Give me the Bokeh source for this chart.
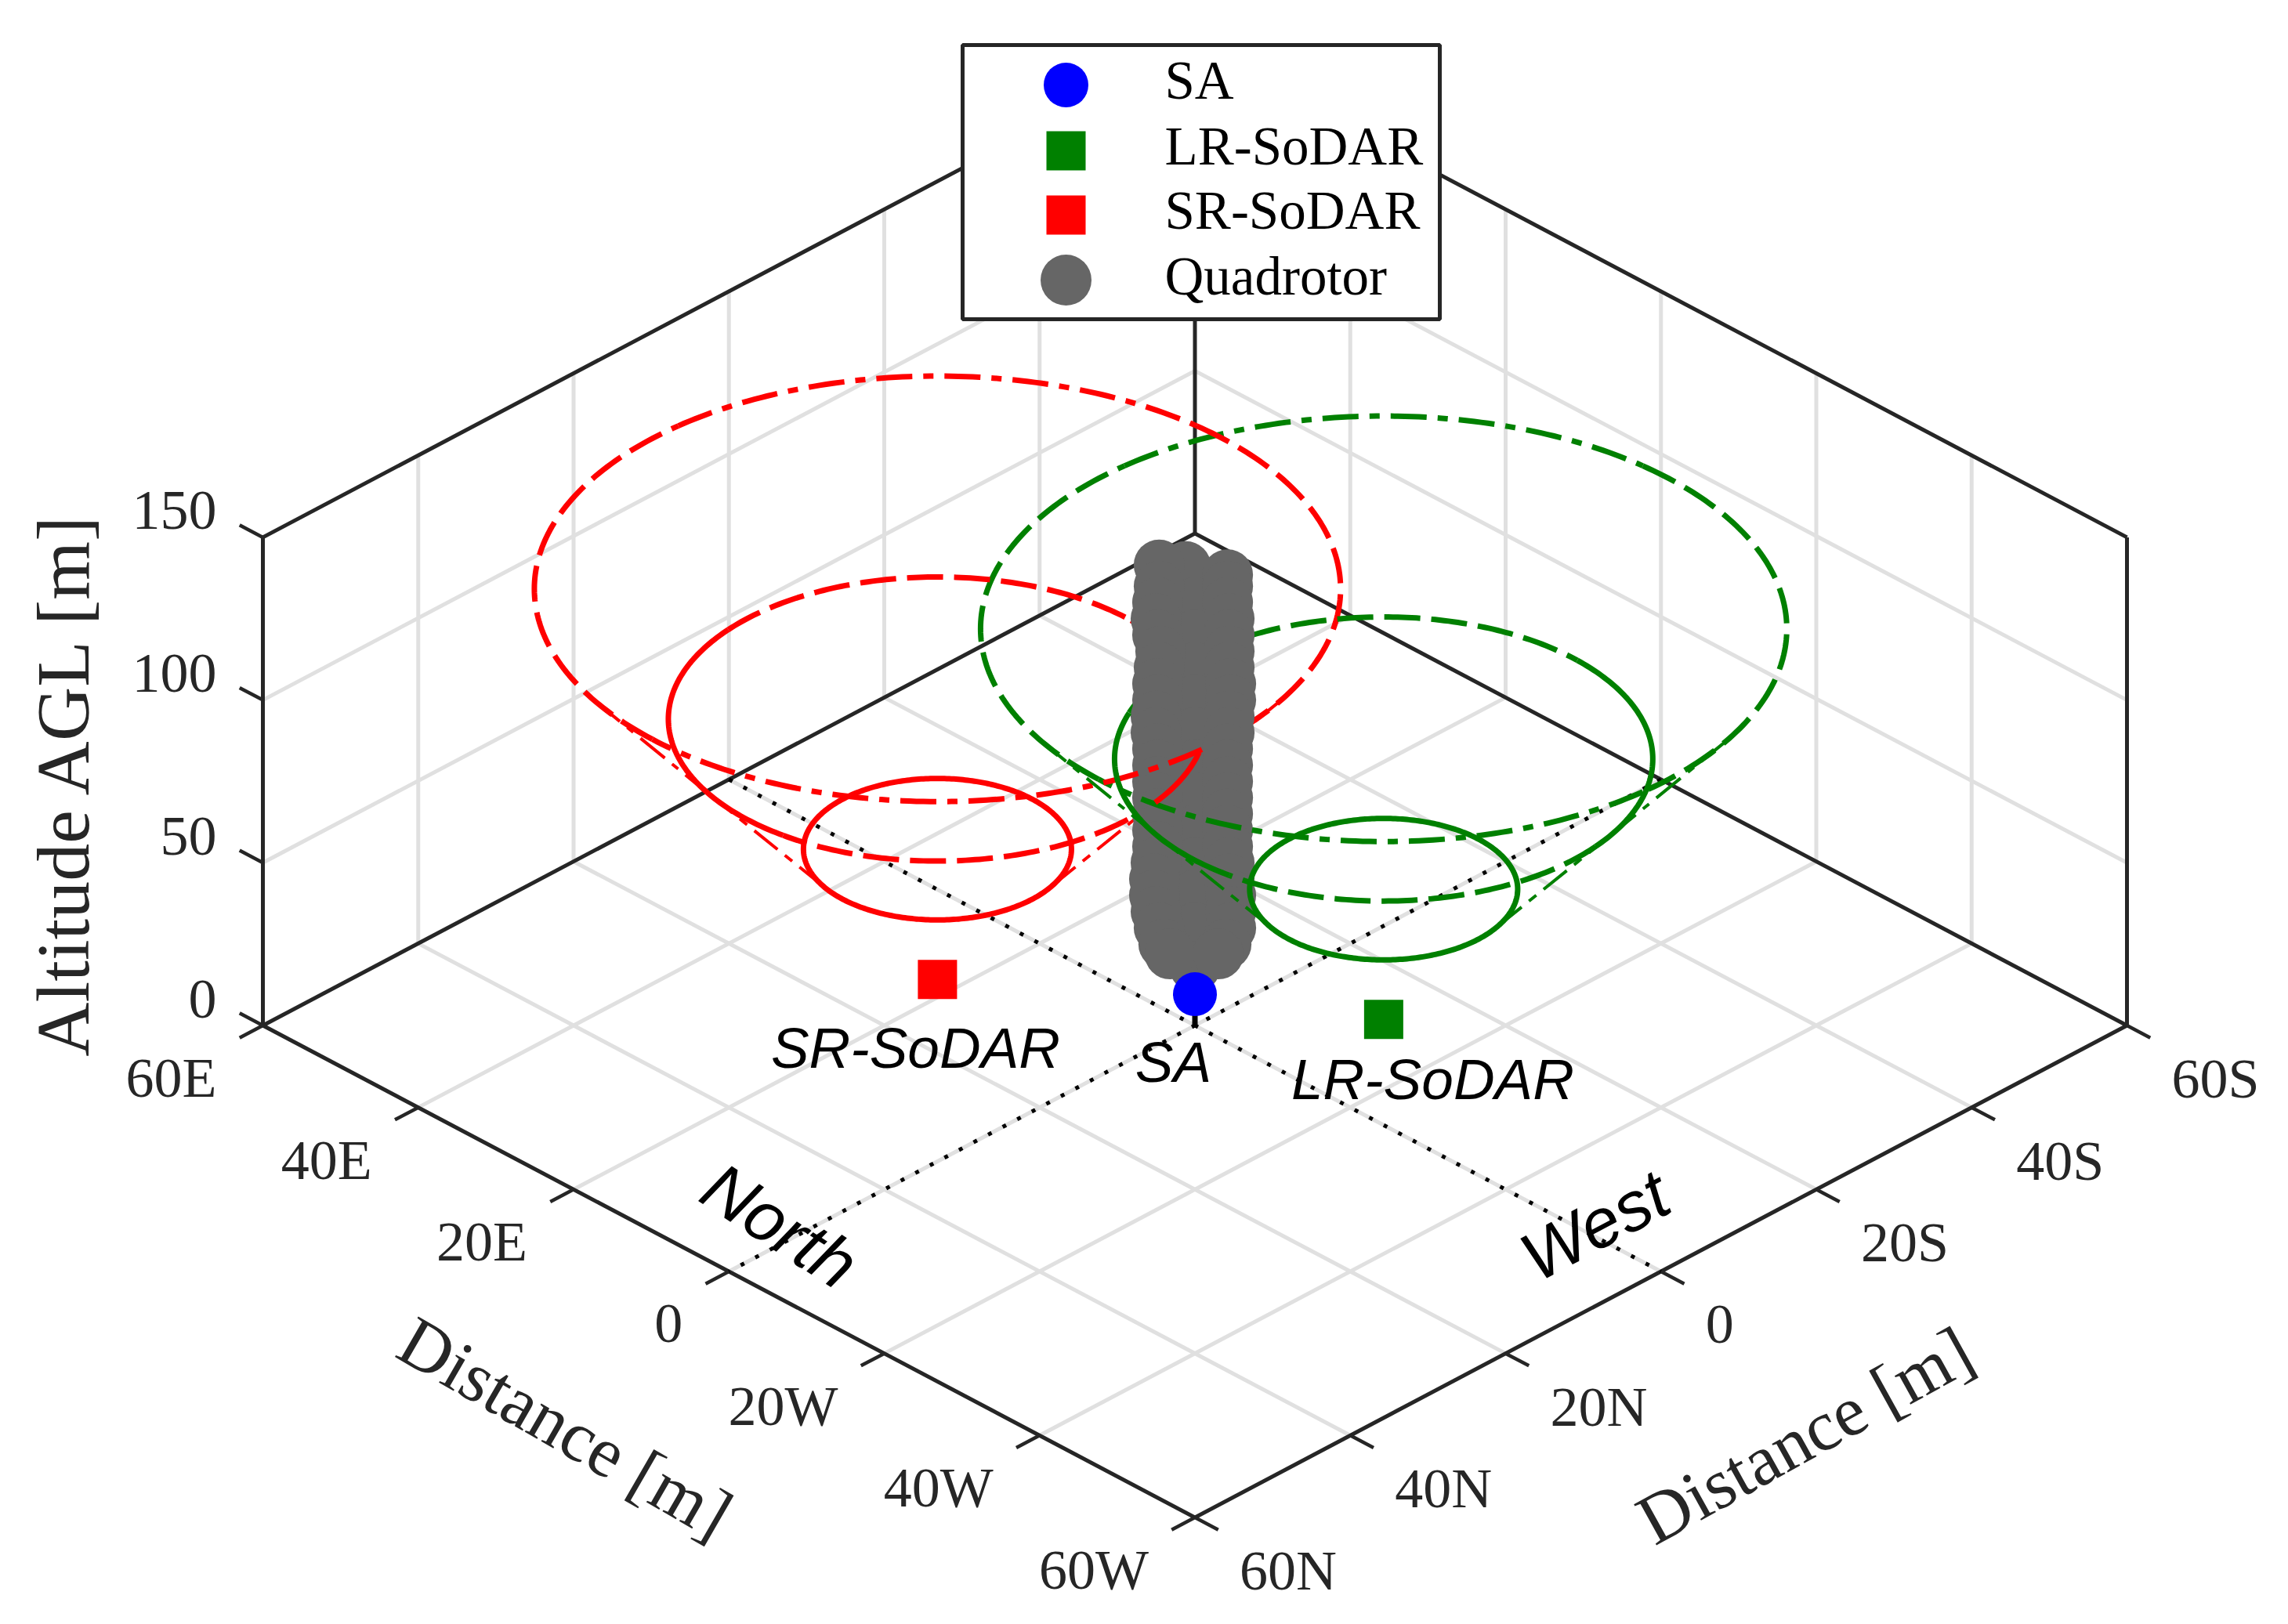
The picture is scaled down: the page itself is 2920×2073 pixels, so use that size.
import math
from bokeh.plotting import figure
from bokeh.models import Range1d
from bokeh.embed import file_html
from bokeh.resources import INLINE
from bokeh.core.properties import value

# ---------- data (metres) ----------
ticks_h = [-60, -40, -20, 0, 20, 40, 60]
ticks_z = [0, 50, 100, 150]
labels_east = {60: "60E", 40: "40E", 20: "20E", 0: "0", -20: "20W", -40: "40W", -60: "60W"}
labels_north = {-60: "60S", -40: "40S", -20: "20S", 0: "0", 20: "20N", 40: "40N", 60: "60N"}

sa_pos = (0.0, 0.0, 9.6)
sr_pos = (22.2, 10.95, 0.0)
lr_pos = (-11.4, -12.9, 0.0)
ring_alt = [40, 80, 120]
ring_radius = [12.2, 24.5, 36.7]

quad_alt_left = [141.5, 135, 130, 125, 120, 115, 110, 105, 100, 95, 90, 85, 80, 75, 70, 65, 60, 55, 50, 45, 40, 35, 30, 25, 22]
quad_off_left = [2.3, 2.3, 2.4, 2.5, 2.4, 2.2, 2.3, 2.4, 2.4, 2.5, 2.5, 2.4, 2.4, 2.4, 2.4, 2.4, 2.4, 2.4, 2.5, 2.6, 2.6, 2.5, 2.3, 2.0, 1.6]
quad_alt_right = [138.5, 135, 130, 125, 120, 115, 110, 105, 100, 95, 90, 85, 80, 75, 70, 65, 60, 55, 50, 45, 40, 35, 30, 25, 22]
quad_off_right = [-2.1, -2.1, -2.1, -2.2, -2.2, -2.2, -2.2, -2.3, -2.3, -2.2, -2.2, -2.1, -2.1, -2.1, -2.1, -2.1, -2.1, -2.1, -2.2, -2.2, -2.3, -2.3, -2.3, -2.0, -1.5]
quad_alt_mid = [141, 130, 120, 110, 100, 90, 80, 70, 60, 50, 40, 30, 20, 18]
quad_off_mid = [0.6, 0, 0, 0, 0, 0, 0, 0, 0, 0, 0, 0, 0, 0]

legend_names = ["SA", "LR-SoDAR", "SR-SoDAR", "Quadrotor"]

# ---------- projection: (east, north, alt) -> picture ----------
CX, CY, KX, KY, KZ = 1524.5, 1308.5, 9.9125, 5.233, 4.154
def proj(e, n, z=0.0):
    return CX - (e + n) * KX, CY + (n - e) * KY - z * KZ

INK = "#262626"; GRID = "#e0e0e0"; RED = "#ff0000"; GREEN = "#008000"; BLUE = "#0000ff"; GREY = "#666666"
SERIF = value("Liberation Serif"); SANS = value("Liberation Sans")
DOTDASH = "46 14 13 14"; DASH = "46 14"

p = figure(width=2904, height=2057, output_backend="svg", toolbar_location=None,
           x_range=Range1d(0, 2904), y_range=Range1d(2057, 0), min_border=0,
           background_fill_color="white", border_fill_color="white", outline_line_color=None)
p.axis.visible = False
p.grid.visible = False

def seg(a, b, color, width, dash="solid"):
    xa, ya = proj(*a); xb, yb = proj(*b)
    p.line([xa, xb], [ya, yb], line_color=color, line_width=width, line_dash=dash, line_cap="butt")

# grid
for t in ticks_h[1:-1]:
    seg((t, -60), (t, 60), GRID, 5)
    seg((-60, t), (60, t), GRID, 5)
    seg((60, t, 0), (60, t, 150), GRID, 5)
    seg((t, -60, 0), (t, -60, 150), GRID, 5)
for z in ticks_z[1:-1]:
    seg((60, -60, z), (60, 60, z), GRID, 5)
    seg((60, -60, z), (-60, -60, z), GRID, 5)

# box
for a, b in [((60, 60, 0), (-60, 60, 0)), ((-60, 60, 0), (-60, -60, 0)),
             ((60, 60, 0), (60, -60, 0)), ((-60, -60, 0), (60, -60, 0)),
             ((60, 60, 0), (60, 60, 150)), ((-60, -60, 0), (-60, -60, 150)),
             ((60, -60, 0), (60, -60, 150)), ((60, 60, 150), (60, -60, 150)),
             ((-60, -60, 150), (60, -60, 150))]:
    seg(a, b, INK, 5)

# ticks
for t in ticks_h:
    seg((t, 60), (t, 63), INK, 4.5)
    seg((-60, t), (-63, t), INK, 4.5)
for z in ticks_z:
    seg((60, 60, z), (63, 60, z), INK, 4.5)

# dotted compass lines
seg((60, 0), (-60, 0), "black", 5, "5 16")
seg((0, -60), (0, 60), "black", 5, "5 16")

def ring(pos, i, a0, a1, color, dash, width=7):
    r = ring_radius[i]; z = ring_alt[i]
    n_pts = max(3, int(abs(a1 - a0)))
    xs, ys = [], []
    for s in range(n_pts + 1):
        phi = math.radians(a0 + (a1 - a0) * s / n_pts)
        e = pos[0] - r / math.sqrt(2) * (math.sin(phi) + math.cos(phi))
        n = pos[1] + r / math.sqrt(2) * (math.sin(phi) - math.cos(phi))
        x, y = proj(e, n, z)
        xs.append(x); ys.append(y)
    p.line(xs, ys, line_color=color, line_width=width, line_dash=dash, line_join="round")

def generator(pos, phi_deg, i0, i1, color, dash):
    phi = math.radians(phi_deg)
    pts = []
    for i in (i0, i1):
        r = ring_radius[i]
        e = pos[0] - r / math.sqrt(2) * (math.sin(phi) + math.cos(phi))
        n = pos[1] + r / math.sqrt(2) * (math.sin(phi) - math.cos(phi))
        pts.append((e, n, ring_alt[i]))
    seg(pts[0], pts[1], color, 4, dash)

# behind the quadrotor column
for pos, c in ((lr_pos, GREEN), (sr_pos, RED)):
    ring(pos, 2, 135, 230, c, DASH)
    ring(pos, 2, 230, 310, c, DOTDASH)
    ring(pos, 2, 310, 409, c, DASH)
ring(lr_pos, 1, 199, 316, GREEN, DASH)
ring(lr_pos, 1, -44, 38, GREEN, "solid")
ring(sr_pos, 1, 219, 316, RED, DASH)
ring(sr_pos, 1, 125, 219, RED, "solid")
ring(sr_pos, 1, 45, 125, RED, DASH)
ring(sr_pos, 1, -44, 13.5, RED, "solid")
ring(sr_pos, 0, 0, 360, RED, "solid")
generator(sr_pos, 148, 2, 1, RED, "40 12 10 12")
generator(sr_pos, 148, 1, 0, RED, "38 12 12 12")
generator(sr_pos, 32, 2, 1, RED, "40 12 10 12")
generator(sr_pos, 32, 1, 0, RED, "38 12 12 12")
generator(lr_pos, 32, 2, 1, GREEN, "40 12 10 12")
generator(lr_pos, 32, 1, 0, GREEN, "38 12 12 12")

# quadrotor track
qx, qy = [], []
for z, o in zip(quad_alt_mid, quad_off_mid):
    x, y = proj(o, o, z); qx.append(x); qy.append(y)
for z, o in zip(quad_alt_left, quad_off_left):
    x, y = proj(o, o, z); qx.append(x); qy.append(y)
for z, o in zip(quad_alt_right, quad_off_right):
    x, y = proj(o, o, z); qx.append(x); qy.append(y)
p.scatter(qx, qy, size=65, marker="circle", fill_color=GREY, line_color=None)

# in front of the column
ring(lr_pos, 2, 50, 135, GREEN, DOTDASH)
ring(sr_pos, 2, 49, 135, RED, DOTDASH)
ring(lr_pos, 1, 38, 125, GREEN, DASH)
ring(lr_pos, 1, 125, 199, GREEN, "solid")
ring(lr_pos, 0, 0, 360, GREEN, "solid")
ring(sr_pos, 1, 13.5, 36, RED, "solid")
generator(lr_pos, 148, 2, 1, GREEN, "40 12 10 12")
generator(lr_pos, 148, 1, 0, GREEN, "38 12 12 12")

# sites
seg((sa_pos[0], sa_pos[1], 0), sa_pos, "black", 7)
def mark(pos, marker, size, color):
    x, y = proj(*pos)
    p.scatter([x], [y], size=size, marker=marker, fill_color=color, line_color=None)
mark(sa_pos, "circle", 56, BLUE)
mark(sr_pos, "square", 50, RED)
mark(lr_pos, "square", 50, GREEN)

def txt(x, y, s, font=SERIF, size=72, color=INK, align="left", base="middle", angle=0.0, style="normal"):
    p.text([x], [y], text=[s], text_font=font, text_font_size=f"{size}px", text_color=color,
           text_align=align, text_baseline=base, angle=angle, text_font_style=style)

# tick labels
for t, s in labels_east.items():
    x, y = proj(t, 60)
    txt(x - 59, y + 67, s, align="right")
for t, s in labels_north.items():
    x, y = proj(-60, t)
    txt(x + 57, y + 68, s, align="left")
for z in ticks_z:
    x, y = proj(60, 60, z)
    txt(x - 59, y - 34, str(z), align="right")

# axis titles
txt(80, 999, "Altitude AGL [m]", size=96, align="center", angle=math.pi / 2)
txt(721, 1822, "Distance [m]", size=91, align="center", angle=-math.radians(30))
txt(2303, 1832, "Distance [m]", size=91, align="center", angle=math.radians(29))

# annotations
txt(1168, 1337, "SR-SoDAR", font=SANS, size=73, color="black", align="center", style="italic")
txt(1828, 1377, "LR-SoDAR", font=SANS, size=73, color="black", align="center", style="italic")
txt(1497, 1355, "SA", font=SANS, size=73, color="black", align="center", style="italic")
txt(995, 1564, "North", font=SANS, size=88, color="black", align="center", angle=-math.radians(33), style="italic")
txt(2035, 1564, "West", font=SANS, size=88, color="black", align="center", angle=math.radians(28), style="italic")

# legend
p.quad(left=[1228], right=[1837], top=[57], bottom=[407], fill_color="white", line_color=INK, line_width=5)
leg_y = [108, 192, 274, 357]
leg_text_y = [102, 186, 268, 352]
leg_marker = ["circle", "square", "square", "circle"]
leg_size = [57, 50, 50, 65]
leg_color = [BLUE, GREEN, RED, GREY]
for i, name in enumerate(legend_names):
    p.scatter([1360], [leg_y[i]], size=leg_size[i], marker=leg_marker[i], fill_color=leg_color[i], line_color=None)
    txt(1486, leg_text_y[i], name, size=69, color="black")

open("out.html", "w").write(file_html(p, INLINE))
